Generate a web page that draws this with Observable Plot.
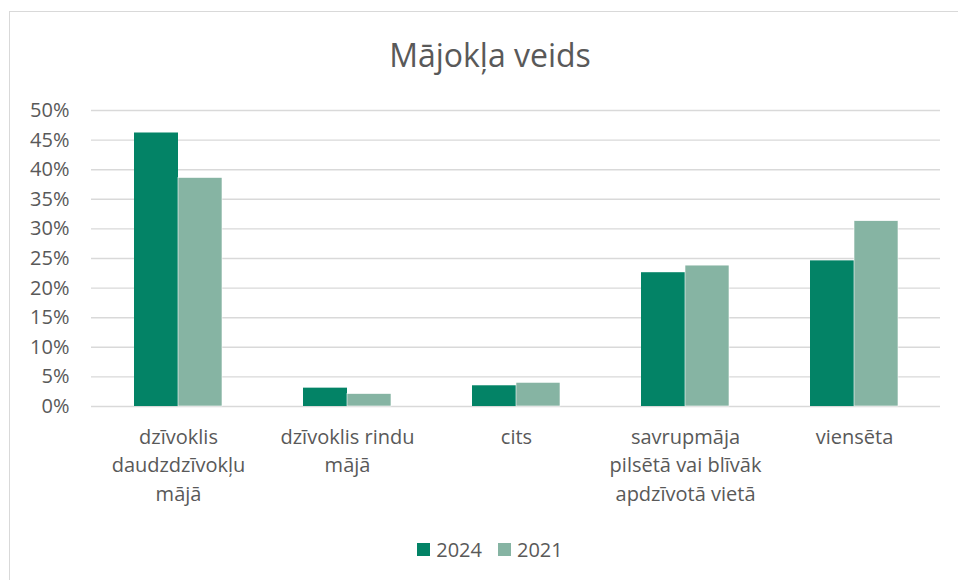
<!DOCTYPE html>
<html>
<head>
<meta charset="utf-8">
<script src="https://cdn.jsdelivr.net/npm/d3@7"></script>
<script src="https://cdn.jsdelivr.net/npm/@observablehq/plot@0.6"></script>
<style>
  html, body { margin: 0; padding: 0; background: #fff; }
  #wrap { position: relative; width: 958px; height: 580px; overflow: hidden; font-family: "Open Sans", sans-serif; color: #595959; }
  #frame { position: absolute; left: 9px; top: 11px; width: 1000px; height: 700px; border: 1.5px solid #d9d9d9; box-sizing: border-box; }
  #title { position: absolute; left: 0; top: 33px; width: 980px; text-align: center; font-size: 32px; line-height: 44px; }
  #chart { position: absolute; left: 0; top: 90px; }
  #legend { position: absolute; left: 0; top: 534px; width: 980px; text-align: center; font-size: 20px; line-height: 30px; }
  .item { display: inline-flex; align-items: center; margin: 0 8px; }
  .sw { width: 13px; height: 13px; display: inline-block; margin-right: 6px; }
</style>
</head>
<body>
<div id="wrap">
  <div id="frame"></div>
  <div id="title">Mājokļa veids</div>
  <div id="chart"></div>
  <div id="legend"></div>
</div>
<script>
const categories = [
  "dzīvoklis daudzdzīvokļu mājā",
  "dzīvoklis rindu mājā",
  "cits",
  "savrupmāja pilsētā vai blīvāk apdzīvotā vietā",
  "viensēta"
];
const categoryLabels = [
  "dzīvoklis\ndaudzdzīvokļu\nmājā",
  "dzīvoklis rindu\nmājā",
  "cits",
  "savrupmāja\npilsētā vai blīvāk\napdzīvotā vietā",
  "viensēta"
];
const series = ["2024", "2021"];
const values2024 = [0.462, 0.031, 0.035, 0.226, 0.246];
const values2021 = [0.386, 0.021, 0.040, 0.238, 0.313];
const colors = ["#038366", "#86b4a3"];
const yTicks = [0, 0.05, 0.10, 0.15, 0.20, 0.25, 0.30, 0.35, 0.40, 0.45, 0.50];

const rows2024 = categories.map((c, i) => ({category: c, year: "2024", value: values2024[i]}));
const rows2021 = categories.map((c, i) => ({category: c, year: "2021", value: values2021[i]}));
const labelOf = new Map(categories.map((c, i) => [c, categoryLabels[i]]));

const chart = Plot.plot({
  width: 958,
  height: 430,
  marginTop: 20,
  marginBottom: 114,
  marginLeft: 91,
  marginRight: 18,
  style: {fontFamily: "Open Sans, sans-serif", color: "#595959", background: "transparent"},
  x: {domain: categories, paddingInner: 0.482, paddingOuter: 0.241, axis: null, label: null},
  y: {domain: [0, 0.5], axis: null, label: null},
  marks: [
    Plot.ruleY(yTicks, {stroke: "#d9d9d9", strokeWidth: 1.4}),
    Plot.barY(rows2024, {x: "category", y: "value", fill: colors[0], insetRight: 44}),
    Plot.barY(rows2021, {x: "category", y: "value", fill: colors[1], insetLeft: 44, stroke: "white", strokeWidth: 0.6}),
    Plot.axisY({ticks: yTicks, tickSize: 0, tickPadding: 22, label: null, tickFormat: d => Math.round(d * 100) + "%", fontSize: 20, fill: "#595959"}),
    Plot.axisX({tickSize: 0, tickPadding: 17, label: null, tickFormat: d => labelOf.get(d), fontSize: 20, lineHeight: 1.43, fill: "#595959", lineAnchor: "top"})
  ]
});
document.getElementById("chart").appendChild(chart);

const legend = document.getElementById("legend");
series.forEach((s, i) => {
  const item = document.createElement("span");
  item.className = "item";
  const sw = document.createElement("span");
  sw.className = "sw";
  sw.style.background = colors[i];
  item.appendChild(sw);
  item.appendChild(document.createTextNode(s));
  legend.appendChild(item);
});
</script>
</body>
</html>
